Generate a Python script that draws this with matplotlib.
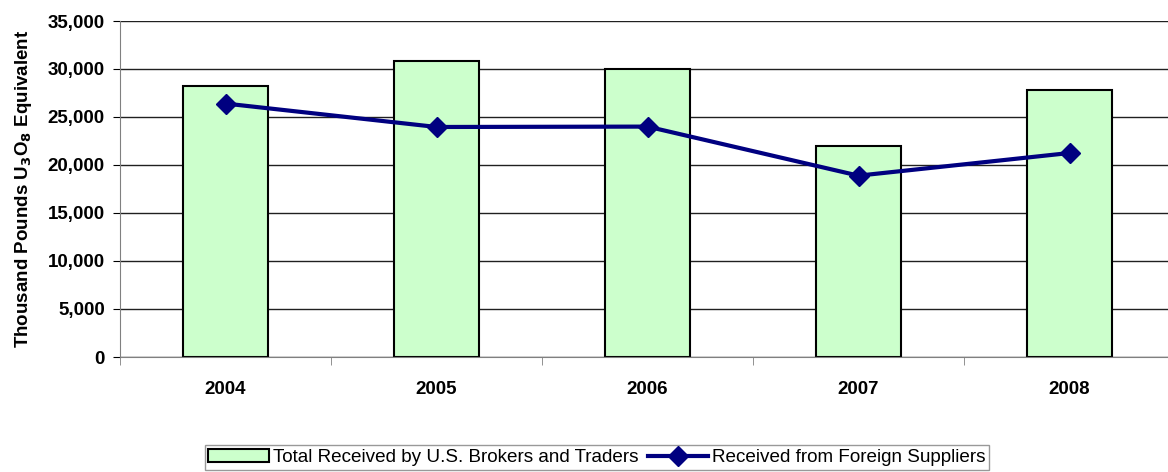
import matplotlib.pyplot as plt
import numpy as np
from matplotlib.ticker import FuncFormatter, FixedLocator

years = ['2004', '2005', '2006', '2007', '2008']
total_received = [28200, 30870, 30000, 22000, 27840]
foreign_suppliers = [26400, 23960, 24000, 18890, 21250]

plt.rcParams['font.family'] = ['Liberation Sans', 'DejaVu Sans']

fig = plt.figure(figsize=(11.68, 4.72), dpi=100)
ax = fig.add_axes([120/1168, 1 - 357/472, 1048/1168, 336/472])

x = np.arange(len(years))
bars = ax.bar(x, total_received, width=0.4, color='#CCFFCC', edgecolor='black',
              linewidth=1.5, label='Total Received by U.S. Brokers and Traders', zorder=2)
line, = ax.plot(x, foreign_suppliers, color='#000080', linewidth=3, marker='D',
                markersize=10, label='Received from Foreign Suppliers', zorder=3)

ax.set_ylim(0, 35000)
ax.set_xlim(-0.5, 1048/211 - 0.5)
ax.set_yticks(np.arange(0, 35001, 5000))
ax.yaxis.set_major_formatter(FuncFormatter(lambda v, p: '{:,.0f}'.format(v)))
ax.yaxis.grid(True, color='#202020', linewidth=1, zorder=0)
ax.set_axisbelow(True)

# category labels at centres, tick marks at boundaries
ax.set_xticks(x)
ax.set_xticklabels(years, fontsize=13.5, fontweight='bold')
ax.tick_params(axis='x', length=0, pad=17)
ax.xaxis.set_minor_locator(FixedLocator(np.arange(-0.5, 5, 1)))
ax.tick_params(axis='x', which='minor', length=6, color='#808080')
ax.tick_params(axis='y', length=5, labelsize=13.5, pad=6)
for lbl in ax.get_yticklabels():
    lbl.set_fontweight('bold')

for s in ['top', 'right']:
    ax.spines[s].set_visible(False)
ax.spines['left'].set_color('#808080')
ax.spines['bottom'].set_color('#808080')

ax.set_ylabel('Thousand Pounds U$_\\mathbf{3}$O$_\\mathbf{8}$ Equivalent', fontsize=13.5,
              fontweight='bold', labelpad=10)

fig.legend(handles=[bars, line], loc='center', bbox_to_anchor=(0.511, 0.03), ncol=2,
           fontsize=13.6, frameon=True, fancybox=False, edgecolor='#808080',
           handlelength=3.2, handletextpad=0.2, columnspacing=0.5, borderpad=0.2)

fig.savefig('out.png', dpi=100)
